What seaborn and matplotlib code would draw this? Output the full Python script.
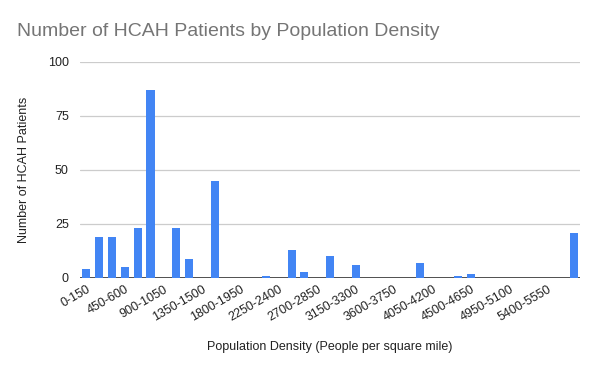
import matplotlib
matplotlib.use("Agg")
import matplotlib.pyplot as plt
import seaborn as sns
import pandas as pd

# density bins of 150 people / sq mile
bin_starts = list(range(0, 5850, 150))
bin_labels = [f"{s}-{s + 150}" for s in bin_starts]
patients = [4, 19, 19, 5, 23, 87, 0, 23, 9, 0,
            45, 0, 0, 0, 1, 0, 13, 3, 0, 10,
            0, 6, 0, 0, 0, 0, 7, 0, 0, 1,
            2, 0, 0, 0, 0, 0, 0, 0, 21]
shown_every = 3

df = pd.DataFrame({"Density": bin_labels, "Patients": patients})

sns.set_theme(style="white")
plt.rcParams["font.family"] = ["Liberation Sans", "DejaVu Sans"]

fig = plt.figure(figsize=(6, 3.71), dpi=100)
ax = fig.add_axes([80 / 600, 1 - 278 / 371, 500 / 600, (278 - 61.7) / 371])

sns.barplot(data=df, x="Density", y="Patients", color="#4285F4",
            width=0.63, saturation=1, linewidth=0, ax=ax, zorder=3)

ax.set_ylim(0, 100)
ax.set_xlim(-0.5, len(bin_labels) - 0.5)
ax.set_yticks([0, 25, 50, 75, 100])
ax.yaxis.grid(True, color="#cccccc", linewidth=0.9, zorder=0)
ax.axhline(0, color="#333333", linewidth=1.2, zorder=2)
for sp in ax.spines.values():
    sp.set_visible(False)

ticks = list(range(0, len(bin_labels), shown_every))
ax.set_xticks(ticks)
ax.set_xticklabels([bin_labels[i] for i in ticks], rotation=30,
                   ha="right", rotation_mode="anchor", fontsize=9, color="#222222")
ax.tick_params(axis="both", length=0, pad=4)
ax.tick_params(axis="y", labelsize=9, labelcolor="#222222", pad=8)

ax.set_xlabel("Population Density (People per square mile)", fontsize=9,
              color="#222222", labelpad=12)
ax.set_ylabel("Number of HCAH Patients", fontsize=9, color="#222222", labelpad=13)

fig.text(17 / 600, 1 - 32 / 371, "Number of HCAH Patients by Population Density",
         fontsize=14, color="#757575", va="center", ha="left")

fig.savefig("out.png", dpi=100)
